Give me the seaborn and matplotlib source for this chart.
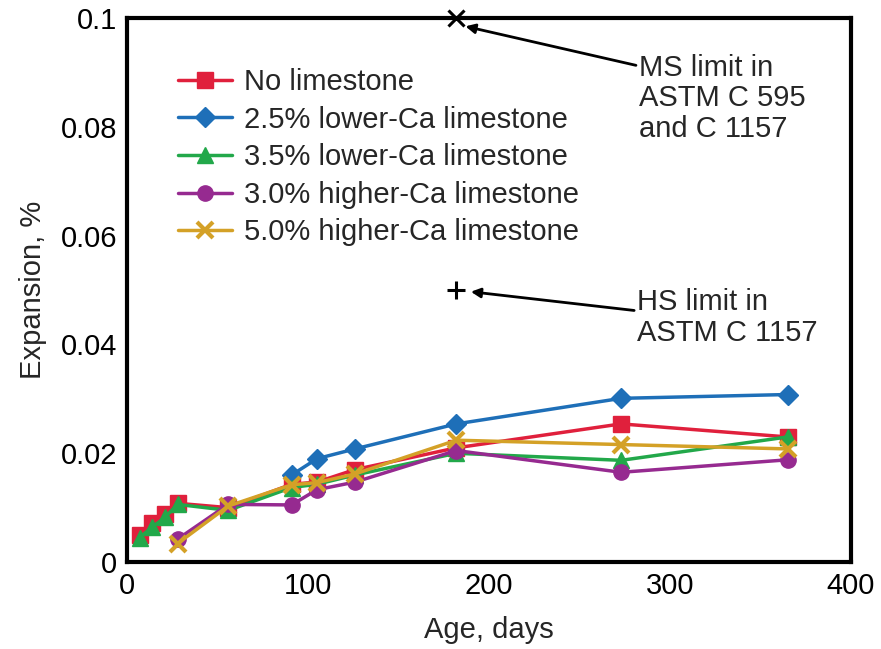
import matplotlib
matplotlib.use("Agg")
import matplotlib.pyplot as plt
import seaborn as sns
import pandas as pd

sns.set_theme(style="white")
plt.rcParams['font.family'] = ['Liberation Sans', 'DejaVu Sans']

# ---- data ----
labels = ["No limestone", "2.5% lower-Ca limestone", "3.5% lower-Ca limestone",
          "3.0% higher-Ca limestone", "5.0% higher-Ca limestone"]

days_no = [7, 14, 21, 28, 56, 91, 105, 126, 182, 273, 365]
exp_no = [0.0050, 0.0072, 0.0088, 0.0108, 0.0100, 0.0143, 0.0147, 0.0170, 0.0210, 0.0254, 0.0230]

days_lc25 = [91, 105, 126, 182, 273, 365]
exp_lc25 = [0.0160, 0.0190, 0.0208, 0.0254, 0.0301, 0.0308]

days_lc35 = [7, 14, 21, 28, 56, 91, 105, 126, 182, 273, 365]
exp_lc35 = [0.0045, 0.0064, 0.0082, 0.0106, 0.0095, 0.0137, 0.0143, 0.0160, 0.0200, 0.0187, 0.0230]

days_hc30 = [28, 56, 91, 105, 126, 182, 273, 365]
exp_hc30 = [0.0042, 0.0106, 0.0105, 0.0133, 0.0147, 0.0205, 0.0165, 0.0188]

days_hc50 = [28, 56, 91, 105, 126, 182, 273, 365]
exp_hc50 = [0.0034, 0.0103, 0.0142, 0.0146, 0.0162, 0.0224, 0.0216, 0.0208]

colors = ["#E0203C", "#1E6FB8", "#22A84A", "#962A90", "#D4A127"]
markers = ["s", "D", "^", "o", "x"]

limit_day = 182
ms_limit = 0.10
hs_limit = 0.05

series = [(days_no, exp_no), (days_lc25, exp_lc25), (days_lc35, exp_lc35),
          (days_hc30, exp_hc30), (days_hc50, exp_hc50)]

FS = 21

fig = plt.figure(figsize=(8.81, 6.49), dpi=100)
ax = fig.add_axes([0.144, 0.134, 0.822, 0.838])

for (d, v), lab, c, m in zip(series, labels, colors, markers):
    df = pd.DataFrame({"day": d, "exp": v})
    ms = 10 if m == "D" else 11
    sns.lineplot(data=df, x="day", y="exp", ax=ax, color=c, marker=m,
                 markersize=ms, markeredgecolor=c, markeredgewidth=3 if m == "x" else 1,
                 linewidth=2.5, label=lab)

# limit markers
ax.plot([limit_day], [ms_limit], marker="x", color="black", markersize=11,
        markeredgewidth=2.2, clip_on=False, zorder=5)
ax.plot([limit_day], [hs_limit], marker="+", color="black", markersize=13,
        markeredgewidth=2.2, zorder=5)

ax.annotate("MS limit in\nASTM C 595\nand C 1157", xy=(187, 0.0985), xytext=(283, 0.0935),
            fontsize=FS, va="top", ha="left", linespacing=1.13,
            arrowprops=dict(arrowstyle="-|>", color="black", lw=2, mutation_scale=14,
                            shrinkA=0, shrinkB=0, relpos=(0, 0.86)))
ax.annotate("HS limit in\nASTM C 1157", xy=(190, 0.0497), xytext=(282, 0.0503),
            fontsize=FS, va="top", ha="left", linespacing=1.13,
            arrowprops=dict(arrowstyle="-|>", color="black", lw=2, mutation_scale=14,
                            shrinkA=0, shrinkB=0, relpos=(0, 0.62)))

ax.set_xlim(0, 400)
ax.set_ylim(0, 0.1)
ax.set_xticks([0, 50, 100, 150, 200, 250, 300, 350, 400])
ax.set_xticklabels(["0", "", "100", "", "200", "", "300", "", "400"])
ax.set_yticks([0, 0.01, 0.02, 0.03, 0.04, 0.05, 0.06, 0.07, 0.08, 0.09, 0.1])
ax.set_yticklabels(["0", "", "0.02", "", "0.04", "", "0.06", "", "0.08", "", "0.1"])
ax.tick_params(axis="both", direction="in", length=9, width=2.8, labelsize=FS,
               colors="black", pad=7)
for s in ax.spines.values():
    s.set_linewidth(3)
    s.set_color("black")
    s.set_visible(True)

ax.set_xlabel("Age, days", fontsize=FS, labelpad=12)
ax.set_ylabel("Expansion, %", fontsize=FS, labelpad=10)

leg = ax.legend(loc="upper left", bbox_to_anchor=(0.055, 0.93), frameon=False,
                fontsize=FS, handlelength=1.85, handletextpad=0.4, labelspacing=0.33,
                borderaxespad=0)

fig.savefig("out.png", dpi=100)
